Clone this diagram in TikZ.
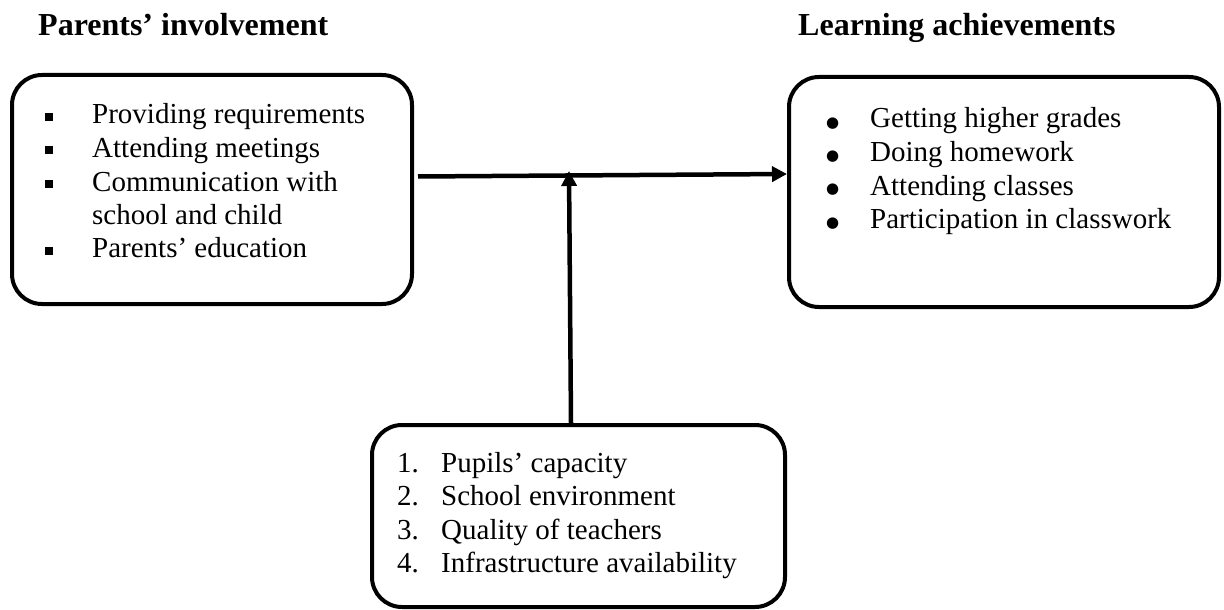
\documentclass[tikz,border=0pt]{standalone}
\usepackage{fontspec}
\setmainfont{Liberation Serif}
\newfontfamily\dejavu{DejaVu Sans}
\usetikzlibrary{arrows.meta}
\newcommand\sqbul{\rule[3pt]{8pt}{8pt}}
\newcommand\rdbul{\raisebox{1pt}{\fontsize{15}{15}\dejavu ●}}
\begin{document}
\begin{tikzpicture}[x=1pt,y=-1pt,
  box/.style={draw=black, line width=4pt, rounded corners=30pt, fill=white, inner sep=0pt, anchor=north west},
  txt/.style={anchor=base west, inner sep=0pt, font=\fontsize{29}{33.5}\selectfont, align=left},
  ttl/.style={anchor=base west, inner sep=0pt, font=\fontsize{32}{36}\selectfont\bfseries},
  conn/.style={line width=4.5pt, -{Triangle[length=15pt,width=15pt]}}]
\useasboundingbox[fill=white] (0,0) rectangle (1224,610);

% titles
\node[ttl] (t1) at (38,36) {Parents’ involvement};
\node[ttl] (t2) at (798,36) {Learning achievements};

% boxes
\node[box, minimum width=400pt, minimum height=229pt] (pib) at (10,73) {};
\node[box, minimum width=430pt, minimum height=230pt] (lab) at (787,75) {};
\node[box, minimum width=413pt, minimum height=182pt] (fb) at (370,423) {};

% texts
\node[txt] (pit) at (45,124) {\begin{tabular}[t]{@{}p{47pt}@{}l@{}}
\sqbul & Providing requirements\\
\sqbul & Attending meetings\\
\sqbul & Communication with\\
       & school and child\\
\sqbul & Parents’ education
\end{tabular}};

\node[txt] (lat) at (826,128) {\begin{tabular}[t]{@{}p{44pt}@{}l@{}}
\rdbul & Getting higher grades\\
\rdbul & Doing homework\\
\rdbul & Attending classes\\
\rdbul & Participation in classwork
\end{tabular}};

\node[txt] (fbt) at (397,472) {\begin{tabular}[t]{@{}p{44pt}@{}l@{}}
1. & Pupils’ capacity\\
2. & School environment\\
3. & Quality of teachers\\
4. & Infrastructure availability
\end{tabular}};

% connectors
\coordinate (vtip) at (569,171);
\draw[conn] ([xshift=4pt,yshift=13pt]pib.east) -- ([yshift=18pt]lab.west);
\draw[conn] ([xshift=-7.5pt]fb.north) -- (vtip);
\end{tikzpicture}
\end{document}
